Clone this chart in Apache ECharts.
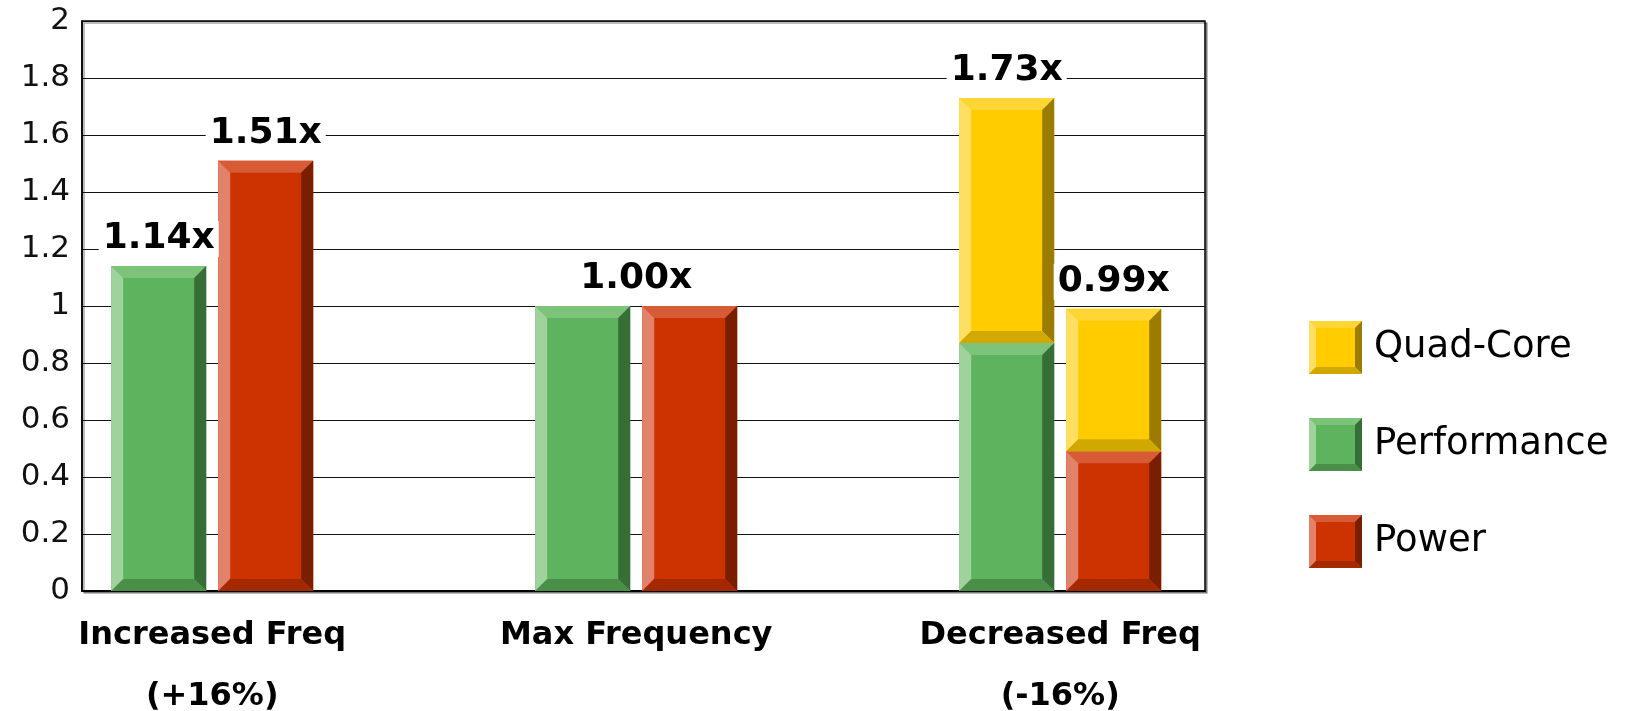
<!DOCTYPE html>
<html>
<head>
<meta charset="utf-8">
<title>Frequency scaling: performance and power</title>
<script src="https://cdn.jsdelivr.net/npm/echarts@6/dist/echarts.min.js"></script>
<style>
  html, body { margin: 0; padding: 0; background: #fff; }
  #chart { width: 1625px; height: 711px; }
</style>
</head>
<body>
<div id="chart"></div>
<script>
// ---- data ----
const categories = ['Increased Freq\n(+16%)', 'Max Frequency', 'Decreased Freq\n(-16%)'];
const performance = [1.14, 1.00, 0.87];     // single-core performance (relative)
const power = [1.51, 1.00, 0.49];           // single-core power (relative)
const quadCorePerformance = [0, 0, 0.86];   // extra performance stacked on top
const quadCorePower = [0, 0, 0.50];         // extra power stacked on top
const yTicks = { min: 0, max: 2, step: 0.2 };

// ---- styling ----
const FONT = '"DejaVu Sans", Verdana, sans-serif';
const BAR_W = 95;        // bar width in px
const BAR_SHIFT = 53.5;  // distance of each bar centre from the cluster centre
const BEVEL = 12;

const palettes = {
  'Quad-Core':   { face: '#ffcc00', top: '#ffd633', left: '#ffdf62', right: '#9c7c00', bottom: '#d1a800' },
  'Performance': { face: '#5eb35e', top: '#7dc37a', left: '#a0d39c', right: '#376e37', bottom: '#4a8f48' },
  'Power':       { face: '#cc3300', top: '#d75b36', left: '#e2826a', right: '#7a1e00', bottom: '#a52900' }
};

function bevelShapes(x, y, w, h, b, pal) {
  const poly = (pts, fill) => ({ type: 'polygon', shape: { points: pts }, style: { fill: fill } });
  return [
    { type: 'rect', shape: { x: x, y: y, width: w, height: h }, style: { fill: pal.face } },
    poly([[x, y], [x + w, y], [x + w - b, y + b], [x + b, y + b]], pal.top),
    poly([[x, y], [x + b, y + b], [x + b, y + h - b], [x, y + h]], pal.left),
    poly([[x + w, y], [x + w, y + h], [x + w - b, y + h - b], [x + w - b, y + b]], pal.right),
    poly([[x, y + h], [x + b, y + h - b], [x + w - b, y + h - b], [x + w, y + h]], pal.bottom)
  ];
}

function bevelBar(api, pal, idx, side, from, to) {
  const top = api.coord([idx, to]);
  const base = api.coord([idx, from]);
  const x0 = top[0] + side * BAR_SHIFT - BAR_W / 2;
  return { type: 'group', children: bevelShapes(x0, top[1], BAR_W, base[1] - top[1], BEVEL, pal) };
}

// legend swatch drawn as a small bevelled square
function swatch(pal) {
  const s = 53, b = 7;
  const pts = a => a.map(p => p.join(',')).join(' ');
  const svg =
    '<svg xmlns="http://www.w3.org/2000/svg" width="' + s + '" height="' + s + '" viewBox="0 0 ' + s + ' ' + s + '">' +
    '<rect width="' + s + '" height="' + s + '" fill="' + pal.face + '"/>' +
    '<polygon points="' + pts([[0, 0], [s, 0], [s - b, b], [b, b]]) + '" fill="' + pal.top + '"/>' +
    '<polygon points="' + pts([[0, 0], [b, b], [b, s - b], [0, s]]) + '" fill="' + pal.left + '"/>' +
    '<polygon points="' + pts([[s, 0], [s, s], [s - b, s - b], [s - b, b]]) + '" fill="' + pal.right + '"/>' +
    '<polygon points="' + pts([[0, s], [b, s - b], [s - b, s - b], [s, s]]) + '" fill="' + pal.bottom + '"/>' +
    '</svg>';
  return 'image://data:image/svg+xml;charset=utf-8,' + encodeURIComponent(svg);
}

// stacked Quad-Core segments: [category, side, from, to]
const quadData = [];
categories.forEach((c, i) => {
  if (quadCorePerformance[i] > 0) quadData.push([i, -1, performance[i], performance[i] + quadCorePerformance[i]]);
  if (quadCorePower[i] > 0) quadData.push([i, 1, power[i], power[i] + quadCorePower[i]]);
});

// value labels: stack totals, one shared label when both columns are equal
const labelData = [];
categories.forEach((c, i) => {
  const left = performance[i] + quadCorePerformance[i];
  const right = power[i] + quadCorePower[i];
  if (Math.abs(left - right) < 1e-9) labelData.push([i, 0, left]);
  else { labelData.push([i, -1, left]); labelData.push([i, 1, right]); }
});

const chart = echarts.init(document.getElementById('chart'), null, { renderer: 'canvas' });

chart.setOption({
  animation: false,
  backgroundColor: '#fff',
  textStyle: { fontFamily: FONT },
  grid: {
    left: 82, right: 420, top: 21, bottom: 120,
    outerBoundsMode: 'none',
    show: true,
    backgroundColor: '#fff',
    borderColor: '#000',
    borderWidth: 1.5,
    shadowColor: 'rgba(0,0,0,0.35)',
    shadowOffsetX: 2,
    shadowOffsetY: 2,
    shadowBlur: 0
  },
  legend: {
    data: ['Quad-Core', 'Performance', 'Power'].map(n => ({ name: n, icon: swatch(palettes[n]) })),
    orient: 'vertical',
    left: 1309,
    top: 321,
    padding: 0,
    itemWidth: 53,
    itemHeight: 53,
    itemGap: 44,
    selectedMode: false,
    textStyle: { fontFamily: FONT, fontSize: 37, color: '#000', padding: [0, 0, 0, 7] }
  },
  xAxis: {
    type: 'value',
    min: -0.3071,
    max: 2.3415,
    splitLine: { show: false },
    axisTick: { show: false },
    axisLine: { show: true, lineStyle: { color: '#000', width: 2 } },
    axisLabel: {
      customValues: categories.map((c, i) => i),
      formatter: v => categories[Math.round(v)] || '',
      fontFamily: FONT,
      fontSize: 32,
      fontWeight: 'bold',
      color: '#000',
      lineHeight: 61,
      margin: 14,
      align: 'center'
    }
  },
  yAxis: {
    type: 'value',
    min: yTicks.min,
    max: yTicks.max,
    interval: yTicks.step,
    axisLine: { show: true, onZero: false, lineStyle: { color: '#000', width: 1.5 } },
    axisTick: { show: false },
    splitLine: { show: true, lineStyle: { color: '#111', width: 1.2 } },
    axisLabel: { fontFamily: FONT, fontSize: 31, color: '#111', margin: 12 }
  },
  series: [
    {
      name: 'Performance',
      type: 'custom',
      silent: true,
      data: performance.map((v, i) => [i, v]),
      encode: { x: 0, y: 1 },
      renderItem: (params, api) => bevelBar(api, palettes['Performance'], api.value(0), -1, 0, api.value(1))
    },
    {
      name: 'Power',
      type: 'custom',
      silent: true,
      data: power.map((v, i) => [i, v]),
      encode: { x: 0, y: 1 },
      renderItem: (params, api) => bevelBar(api, palettes['Power'], api.value(0), 1, 0, api.value(1))
    },
    {
      name: 'Quad-Core',
      type: 'custom',
      silent: true,
      data: quadData,
      encode: { x: 0, y: [2, 3] },
      renderItem: (params, api) => bevelBar(api, palettes['Quad-Core'], api.value(0), api.value(1), api.value(2), api.value(3))
    },
    {
      name: 'totals',
      type: 'custom',
      silent: true,
      data: labelData,
      encode: { x: 0, y: 2 },
      z: 5,
      renderItem: (params, api) => {
        const p = api.coord([api.value(0), api.value(2)]);
        return {
          type: 'text',
          x: p[0] + api.value(1) * BAR_SHIFT,
          y: p[1] - 9,
          style: {
            text: api.value(2).toFixed(2) + 'x',
            font: 'bold 36px ' + FONT,
            fill: '#000',
            align: 'center',
            verticalAlign: 'bottom',
            lineHeight: 36,
            backgroundColor: '#fff',
            padding: [0, 4]
          }
        };
      }
    }
  ]
});
</script>
</body>
</html>
